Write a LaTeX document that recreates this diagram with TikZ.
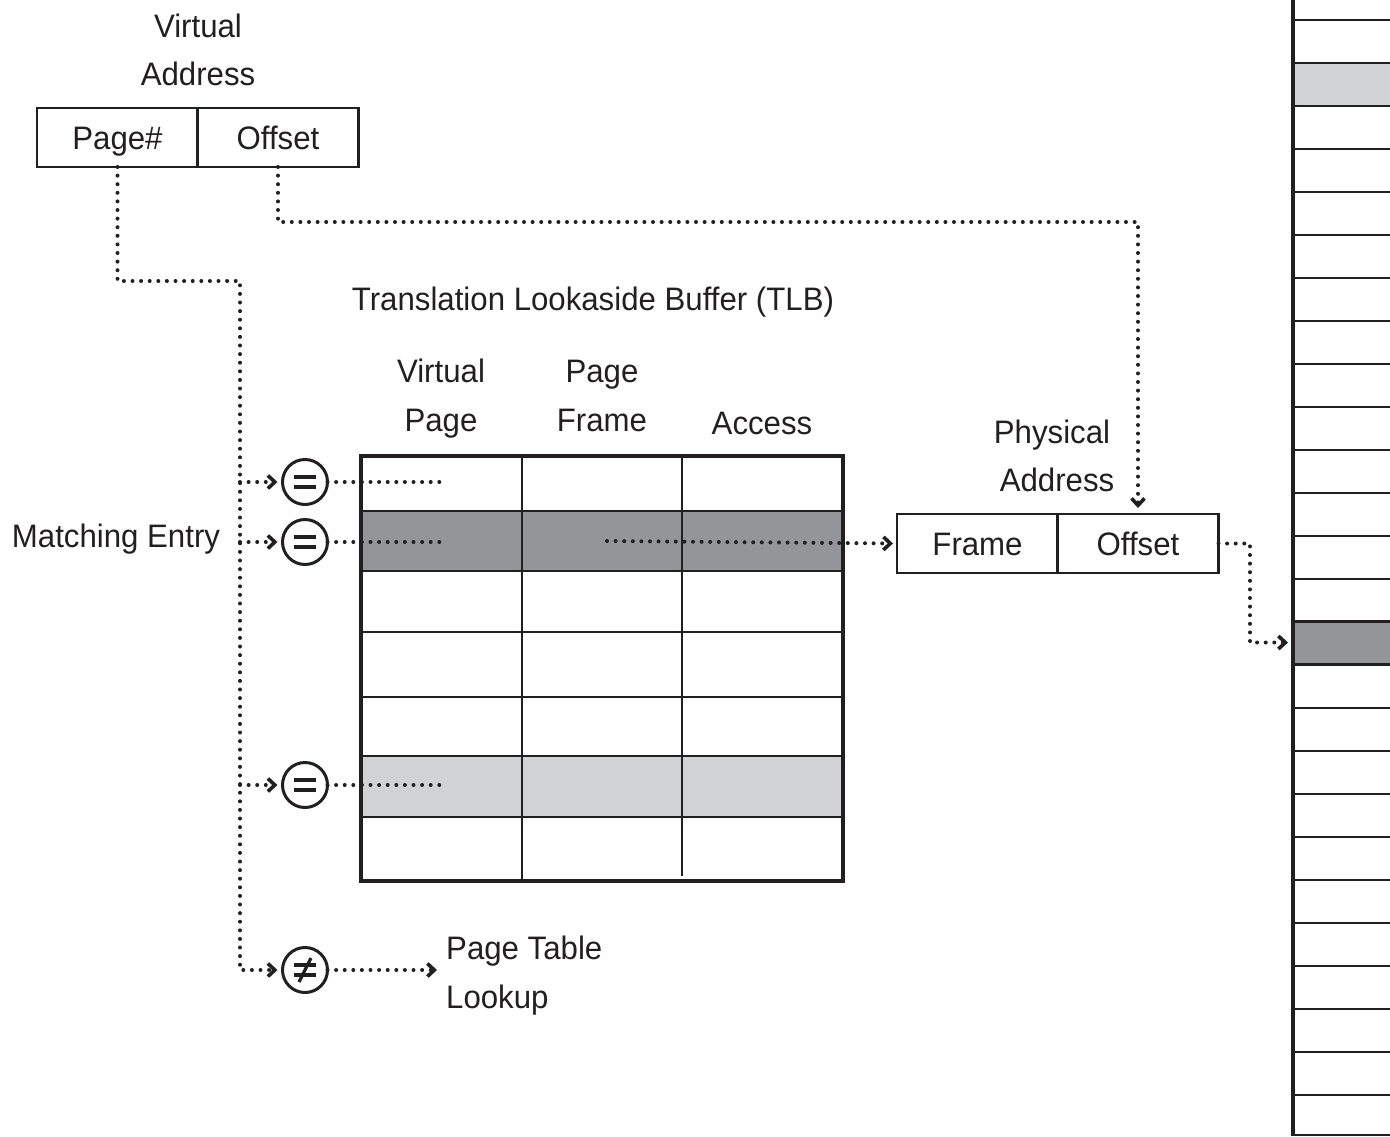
\documentclass[tikz,border=0pt]{standalone}
\usepackage{fontspec}
\setmainfont{Liberation Sans}[FakeStretch=0.96]
\usetikzlibrary{arrows.meta}
\definecolor{darkg}{HTML}{939598}
\definecolor{lightg}{HTML}{D1D2D4}
\definecolor{ink}{HTML}{231F20}
\begin{document}
\begin{tikzpicture}[x=1pt,y=-1pt,
  lbl/.style={font=\fontsize{32.5}{38}\selectfont, inner sep=0pt, text=ink},
  cellbox/.style={draw=ink, line width=2.8pt, minimum width=161pt, minimum height=59pt, inner sep=0pt, outer sep=0pt,
     font=\fontsize{32.5}{38}\selectfont, text height=23pt, text depth=0pt, text=ink},
  dots/.style={draw=ink, line width=4pt, line cap=round, dash pattern=on 0pt off 8.6pt},
  dotarr/.style={dots, -{Straight Barb[length=7pt,width=13pt,line width=3.6pt]}},
  cmp/.style={circle, draw=ink, line width=3pt, minimum size=45pt, inner sep=0pt, outer sep=0pt},
  eq/.style={cmp, path picture={
     \draw[ink, line width=3.6pt] ([shift={(-11pt,5pt)}]path picture bounding box.center) -- ++(22pt,0pt)
       ([shift={(-11pt,-5pt)}]path picture bounding box.center) -- ++(22pt,0pt);}},
  neq/.style={cmp, path picture={
     \draw[ink, line width=3.6pt] ([shift={(-11pt,5pt)}]path picture bounding box.center) -- ++(22pt,0pt)
       ([shift={(-11pt,-5pt)}]path picture bounding box.center) -- ++(22pt,0pt);
     \draw[ink, line width=3.2pt] ([shift={(-6pt,-12pt)}]path picture bounding box.center) -- ([shift={(6pt,12pt)}]path picture bounding box.center);}},
  grid/.style={draw=ink, line width=2.5pt},
]
\useasboundingbox (0,0) rectangle (1390,1136);

% ---------- Virtual address ----------
\node[lbl, anchor=base] (vaL1) at (198,37) {Virtual};
\node[lbl, anchor=base] (vaL2) at (198,85) {Address};
\node[cellbox] (vpage) at (117.5,137.5) {Page\#};
\node[cellbox] (voff) at (278,137.5) {Offset};

% ---------- TLB ----------
\node[lbl, anchor=base] (tlbT) at (593,310) {Translation Lookaside Buffer (TLB)};
\node[lbl, anchor=base] (h1a) at (441,382) {Virtual};
\node[lbl, anchor=base] (h1b) at (441,431) {Page};
\node[lbl, anchor=base] (h2a) at (602,382) {Page};
\node[lbl, anchor=base] (h2b) at (602,431) {Frame};
\node[lbl, anchor=base] (h3) at (762,434) {Access};

\fill[darkg] (361,511) rectangle (843,571);
\fill[lightg] (361,756) rectangle (843,817);
\foreach \yy in {511,571,632,697,756,817} \draw[grid] (361,\yy) -- (843,\yy);
\draw[grid] (522,456) -- (522,881);
\draw[grid] (682,456) -- (682,876);
\node[draw=ink, line width=3.5pt, minimum width=482pt, minimum height=425pt, inner sep=0pt, outer sep=0pt, anchor=north west] (tlb) at (361,456) {};

% ---------- Physical address ----------
\node[lbl, anchor=base] (paL1) at (1052,443) {Physical};
\node[lbl, anchor=base] (paL2) at (1057,491) {Address};
\node[cellbox] (pframe) at (977.5,543.5) {Frame};
\node[cellbox] (poff) at (1138,543.5) {Offset};

% ---------- Comparators ----------
\node[lbl, anchor=base] (match) at (116,547) {Matching Entry};
\node[eq] (c1) at (305,482) {};
\node[eq] (c2) at (305,542) {};
\node[eq] (c3) at (305,785) {};
\node[neq] (c4) at (305,970) {};
\node[lbl, anchor=base west] (pt1) at (446,959) {Page Table};
\node[lbl, anchor=base west] (pt2) at (446,1008) {Lookup};

% ---------- Memory ----------
\fill[lightg] (1293,63) rectangle (1400,106);
\node[fill=darkg, draw=ink, line width=2.8pt, minimum width=120pt, minimum height=43pt, inner sep=0pt, outer sep=0pt, anchor=north west] (mhit) at (1293,621) {};
\foreach \k [evaluate=\k as \yy using 20+43*\k] in {0,...,25} \draw[grid] (1293,\yy) -- (1400,\yy);
\draw[grid] (1293,1135) -- (1400,1135);
\draw[draw=ink, line width=3.2pt] (1293,0) -- (1293,1136);

% ---------- Coordinates ----------
\coordinate (j0) at (240,281);
\coordinate (b1) at (240,482);
\coordinate (b2) at (240,542);
\coordinate (b3) at (240,785);
\coordinate (b4) at (240,970);
\coordinate (e1) at (440,482);
\coordinate (e2) at (440,542);
\coordinate (e3) at (440,785);
\coordinate (e4) at (437,970);
\coordinate (hit) at (607,541);
\coordinate (oturn) at (700,222);
\coordinate (pturn) at (1250,600);

% ---------- Connectors ----------
\draw[dotarr, shorten >=5pt] (vpage.south) |- (j0) -- (b4) -- (c4);
\draw[dotarr, shorten >=5pt] (b1) -- (c1);
\draw[dotarr, shorten >=5pt] (b2) -- (c2);
\draw[dotarr, shorten >=5pt] (b3) -- (c3);
\draw[dots] (c1.east) -- (e1);
\draw[dots] (c2.east) -- (e2);
\draw[dots] (c3.east) -- (e3);
\draw[dotarr] (c4.east) -- (e4);
\draw[dotarr, shorten >=4pt] (hit) -- (pframe.west);
\draw[dotarr, shorten >=6pt] (voff.south) |- (oturn) -| (poff.north);
\draw[dotarr, shorten >=5pt] (poff.east) -| (pturn) |- (mhit.west);
\end{tikzpicture}
\end{document}
